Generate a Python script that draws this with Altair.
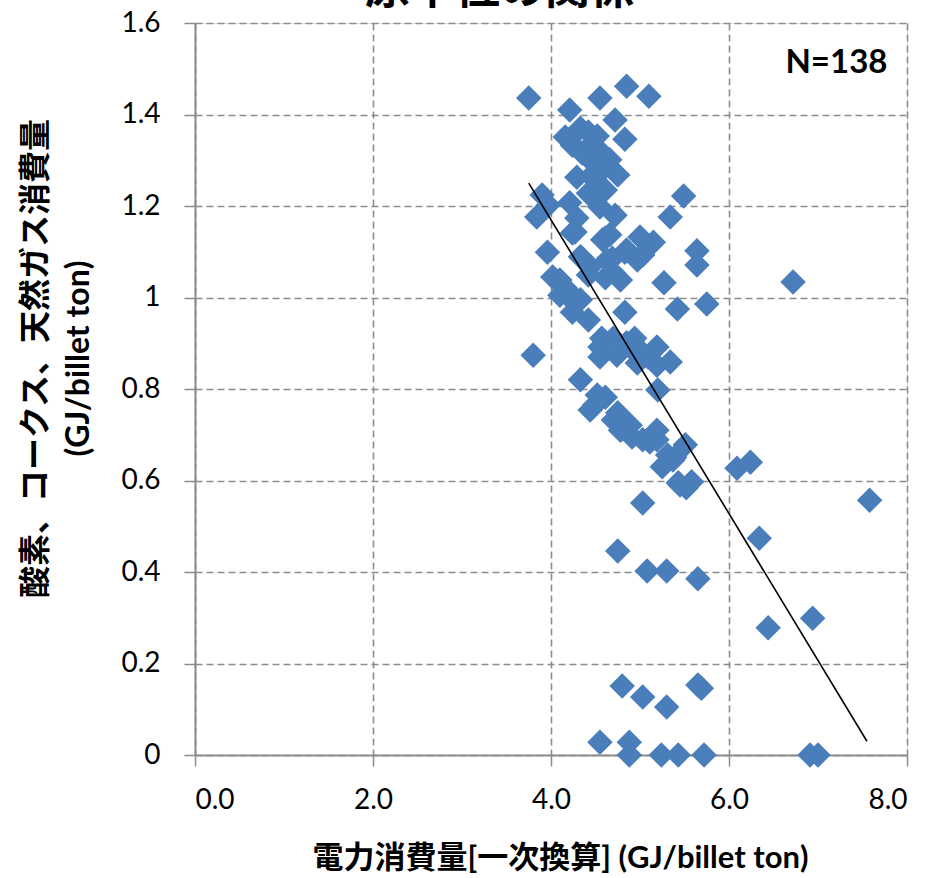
import altair as alt
import pandas as pd

# electricity consumption (GJ/billet ton)
x_vals = [3.75, 4.21, 4.55, 4.85, 5.10, 4.72, 4.83, 4.16, 4.33, 4.42,
          4.35, 4.47, 4.66, 4.75, 4.29, 4.49, 4.52, 4.46, 4.55, 4.72,
          3.90, 3.84, 4.21, 4.29, 4.24, 3.96, 4.02, 4.18, 4.33, 4.44,
          4.58, 4.63, 4.70, 4.78, 4.27, 4.83, 5.34, 5.49, 5.00, 5.15,
          5.03, 5.64, 5.64, 5.27, 5.75, 5.42, 4.97, 4.85, 4.24, 4.42,
          3.80, 4.55, 4.55, 4.70, 4.74, 4.85, 4.98, 4.97, 5.19, 5.34,
          5.19, 4.33, 5.20, 4.52, 4.44, 4.75, 4.89, 4.91, 5.11, 5.19,
          5.25, 5.37, 5.51, 5.45, 5.58, 5.03, 6.09, 6.24, 6.34, 6.44,
          6.94, 7.58, 6.72, 4.75, 5.08, 5.30, 5.65, 4.80, 5.03, 5.30,
          5.65, 5.69, 4.55, 4.88, 4.88, 5.24, 5.43, 5.72, 6.91, 7.00,
          3.97, 4.70, 4.61, 4.70, 4.83, 5.39, 5.43, 4.57, 4.61, 4.61,
          4.16, 4.66, 4.69, 4.83, 4.42, 4.35, 4.27, 4.61, 4.61, 4.44,
          4.42, 4.49, 4.94, 5.09, 5.03, 4.78, 4.49, 4.38, 4.24, 4.55,
          4.52, 4.10, 4.10, 4.33, 5.00, 5.31, 5.52, 5.19]

# oxygen, coke, natural gas consumption (GJ/billet ton)
y_vals = [1.436, 1.410, 1.436, 1.462, 1.440, 1.388, 1.346, 1.351, 1.370, 1.362,
          1.316, 1.327, 1.301, 1.268, 1.263, 1.274, 1.242, 1.220, 1.198, 1.180,
          1.224, 1.176, 1.207, 1.174, 1.141, 1.099, 1.045, 1.016, 1.089, 1.067,
          1.126, 1.082, 1.054, 1.038, 0.988, 0.968, 1.176, 1.222, 1.132, 1.121,
          1.093, 1.102, 1.071, 1.032, 0.986, 0.975, 1.082, 1.104, 0.968, 0.951,
          0.874, 0.892, 0.870, 0.901, 0.874, 0.901, 0.874, 0.857, 0.892, 0.859,
          0.852, 0.820, 0.798, 0.787, 0.754, 0.748, 0.721, 0.695, 0.684, 0.710,
          0.630, 0.645, 0.678, 0.590, 0.597, 0.551, 0.627, 0.640, 0.474, 0.278,
          0.299, 0.557, 1.034, 0.446, 0.402, 0.402, 0.385, 0.151, 0.127, 0.105,
          0.153, 0.146, 0.028, 0.028, 0.000, 0.000, 0.000, 0.000, 0.000, 0.000,
          1.202, 0.911, 0.782, 0.732, 0.717, 0.651, 0.595, 0.911, 1.130, 1.043,
          1.021, 1.137, 1.086, 1.099, 1.049, 1.086, 1.143, 1.285, 1.235, 1.301,
          1.228, 1.257, 0.911, 0.870, 0.689, 0.710, 0.765, 1.320, 1.333, 1.320,
          1.353, 1.038, 1.005, 0.995, 0.885, 0.656, 0.584, 0.689]

trend_x = [3.75, 7.55]
trend_y = [1.25, 0.03]

x_ticks = [0, 2, 4, 6, 8]
y_ticks = [0, 0.2, 0.4, 0.6, 0.8, 1, 1.2, 1.4, 1.6]

note_text = ["N=138"]
note_x = [7.78]
note_y = [1.513]

title_text = "原単位の関係"
x_title = "電力消費量[一次換算] (GJ/billet ton)"
y_title = ["酸素、コークス、天然ガス消費量", "(GJ/billet ton)"]

pts = pd.DataFrame({"x": x_vals, "y": y_vals})
trend = pd.DataFrame({"x": trend_x, "y": trend_y})
note = pd.DataFrame({"x": note_x, "y": note_y, "t": note_text})

LAT = "Lato, 'Noto Sans CJK JP', sans-serif"
CJK = "Lato, 'Noto Sans CJK JP', sans-serif"

xscale = alt.Scale(domain=[0, 8], nice=False, zero=False)
yscale = alt.Scale(domain=[0, 1.6], nice=False, zero=False)

grid_common = dict(grid=True, gridColor="#8c8c8c", gridDash=[7, 4], gridWidth=1.6,
                   domainColor="#8c8c8c", domainWidth=2, tickColor="#8c8c8c",
                   tickWidth=1.5, tickSize=11, labelColor="#000000", labelFont=LAT,
                   labelFontSize=28, titleColor="#000000", titleFont=CJK,
                   titleFontWeight="bold")

xaxis = alt.Axis(values=x_ticks, format=".1f", title=x_title, labelPadding=20,
                 titleFontSize=31, titleX=365, titleY=103, titleBaseline="middle",
                 titleAnchor="middle", titleAlign="center", **grid_common)
yaxis = alt.Axis(values=y_ticks, format="~g", title=y_title, labelPadding=24,
                 titleFontSize=32, titleLineHeight=43, titleX=-160, titleY=335,
                 titleBaseline="middle", titleAlign="center", titleAngle=270,
                 **grid_common)

points = alt.Chart(pts).mark_point(shape="diamond", filled=True, size=650,
                                   color="#4A7EBB", opacity=1).encode(
    x=alt.X("x:Q", scale=xscale, axis=xaxis),
    y=alt.Y("y:Q", scale=yscale, axis=yaxis),
)

line = alt.Chart(trend).mark_line(color="#000000", strokeWidth=1.6).encode(
    x=alt.X("x:Q", scale=xscale),
    y=alt.Y("y:Q", scale=yscale),
)

label = alt.Chart(note).mark_text(font=LAT, fontSize=33, fontWeight="bold",
                                  align="right", baseline="middle",
                                  color="#000000").encode(
    x=alt.X("x:Q", scale=xscale),
    y=alt.Y("y:Q", scale=yscale),
    text="t:N",
)

chart = alt.layer(points, line, label).properties(
    width=712,
    height=732,
    title=alt.TitleParams(title_text, font="'Noto Sans CJK JP'", fontSize=45,
                          fontWeight="bold", color="#000000", anchor="middle",
                          dx=-51, offset=-4),
    autosize=alt.AutoSizeParams(type="none"),
    padding={"left": 195, "top": 23, "right": 30, "bottom": 123},
).configure_view(stroke=None).configure(background="white")

chart.save("out.html", embed_options={"renderer": "svg", "actions": False})
